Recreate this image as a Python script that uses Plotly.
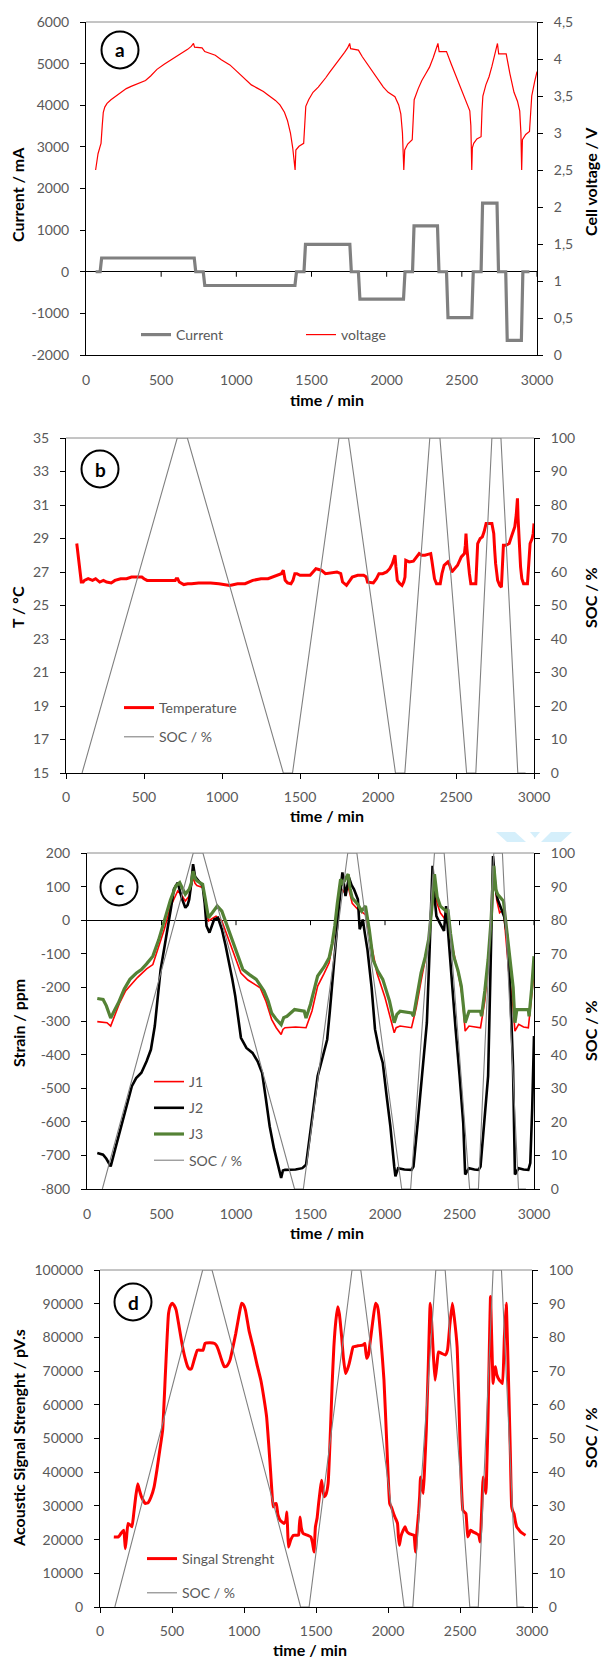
import plotly.graph_objects as go

# ------------------------------------------------------------------ data
time_ticks = [0, 500, 1000, 1500, 2000, 2500, 3000]

# (a) current (mA) and cell voltage (V)
current_t = [64, 94, 104, 720, 730, 780, 790, 1390, 1400, 1450, 1460, 1755, 1765, 1812,
             1822, 2112, 2122, 2172, 2182, 2338, 2348, 2398, 2408, 2566, 2576, 2628,
             2638, 2734, 2744, 2792, 2802, 2896, 2906, 2950]
current_mA = [0, 0, 330, 330, 0, 0, -330, -330, 0, 0, 660, 660, 0, 0, -660, -660, 0, 0,
              1100, 1100, 0, 0, -1100, -1100, 0, 0, 1650, 1650, 0, 0, -1650, -1650, 0, 0]

voltage_t = [64, 80, 94, 100, 108, 115, 125, 140, 166, 200, 240, 268, 300, 340, 396, 430,
             472, 520, 560, 600, 640, 676, 700, 715, 722, 760, 772, 790, 830, 860, 900,
             957, 1000, 1059, 1100, 1136, 1180, 1213, 1260, 1290, 1320, 1340, 1360, 1375,
             1391, 1396, 1417, 1448, 1455, 1462, 1481, 1510, 1545, 1570, 1596, 1620, 1647,
             1670, 1698, 1720, 1740, 1754, 1760, 1785, 1812, 1838, 1870, 1902, 1940, 1978,
             2010, 2055, 2080, 2094, 2105, 2114, 2120, 2140, 2170, 2176, 2183, 2210, 2234,
             2260, 2285, 2310, 2330, 2341, 2349, 2398, 2430, 2464, 2500, 2528, 2553, 2560,
             2566, 2570, 2579, 2600, 2628, 2634, 2640, 2660, 2681, 2700, 2720, 2737, 2745,
             2795, 2820, 2847, 2870, 2885, 2893, 2898, 2903, 2925, 2950, 2958, 2965, 2985,
             3000]
voltage_V = [2.50, 2.72, 2.82, 2.86, 3.10, 3.28, 3.35, 3.40, 3.45, 3.50, 3.56, 3.60, 3.63,
             3.66, 3.71, 3.77, 3.86, 3.93, 3.98, 4.04, 4.09, 4.13, 4.17, 4.21, 4.16, 4.16,
             4.15, 4.10, 4.07, 4.05, 3.99, 3.92, 3.84, 3.72, 3.65, 3.61, 3.56, 3.51, 3.44,
             3.38, 3.28, 3.17, 3.00, 2.80, 2.50, 2.77, 2.82, 2.86, 3.10, 3.36, 3.45, 3.55,
             3.62, 3.68, 3.75, 3.82, 3.89, 3.96, 4.03, 4.09, 4.15, 4.21, 4.14, 4.13, 4.12,
             4.03, 3.94, 3.85, 3.73, 3.62, 3.55, 3.49, 3.38, 3.26, 3.00, 2.50, 2.77, 2.85,
             2.91, 3.20, 3.45, 3.60, 3.71, 3.80, 3.89, 4.02, 4.15, 4.21, 4.10, 4.10, 3.93,
             3.76, 3.58, 3.44, 3.30, 3.10, 2.50, 2.80, 2.86, 2.92, 2.95, 3.30, 3.50, 3.65,
             3.76, 3.90, 4.05, 4.21, 4.07, 4.07, 3.80, 3.55, 3.43, 3.30, 3.00, 2.50, 2.91,
             2.98, 3.02, 3.30, 3.50, 3.70, 3.83]

# state of charge (%), shared by panels b, c, d
soc_t = [103, 713, 778, 1393, 1452, 1750, 1811, 2112, 2172, 2332, 2397, 2568, 2627, 2730,
         2788, 2896, 2946]
soc_pct = [0, 100, 100, 0, 0, 100, 100, 0, 0, 100, 100, 0, 0, 100, 100, 0, 0]

# (b) temperature (°C)
temp_t = [69, 75, 81, 90, 98, 110, 118, 142, 170, 190, 216, 240, 260, 290, 314, 350, 388,
          420, 486, 500, 520, 559, 600, 682, 700, 706, 716, 726, 755, 780, 805, 850, 927,
          980, 1050, 1100, 1148, 1197, 1250, 1295, 1343, 1380, 1393, 1400, 1405, 1420,
          1442, 1455, 1467, 1480, 1500, 1565, 1585, 1602, 1620, 1638, 1663, 1690, 1737,
          1761, 1768, 1773, 1798, 1815, 1835, 1870, 1908, 1925, 1933, 1970, 1990, 2006,
          2030, 2055, 2075, 2092, 2100, 2109, 2115, 2124, 2140, 2154, 2165, 2173, 2178,
          2200, 2227, 2245, 2264, 2280, 2301, 2320, 2338, 2345, 2350, 2362, 2375, 2399,
          2410, 2424, 2448, 2460, 2473, 2490, 2510, 2534, 2554, 2560, 2564, 2570, 2576,
          2586, 2595, 2627, 2633, 2639, 2655, 2669, 2680, 2693, 2730, 2742, 2748, 2754,
          2767, 2780, 2791, 2797, 2804, 2820, 2841, 2855, 2865, 2877, 2886, 2894, 2898,
          2902, 2908, 2914, 2922, 2933, 2958, 2967, 2975, 2988, 2995, 3000]
temp_C = [28.7, 28.2, 27.5, 26.8, 26.4, 26.4, 26.5, 26.6, 26.5, 26.6, 26.4, 26.5, 26.4,
          26.35, 26.5, 26.6, 26.6, 26.7, 26.7, 26.6, 26.5, 26.5, 26.5, 26.5, 26.5, 26.6,
          26.6, 26.4, 26.25, 26.3, 26.3, 26.35, 26.35, 26.3, 26.2, 26.3, 26.3, 26.5, 26.6,
          26.6, 26.75, 26.9, 27.1, 26.8, 26.5, 26.35, 26.3, 26.5, 26.9, 26.9, 26.8, 26.8,
          27.0, 27.2, 27.15, 27.1, 26.9, 26.95, 27.0, 26.9, 26.6, 26.4, 26.2, 26.4, 26.7,
          26.8, 26.8, 26.7, 26.4, 26.35, 26.6, 26.9, 26.9, 27.0, 27.2, 27.5, 27.7, 28.0,
          27.3, 26.5, 26.3, 26.2, 26.4, 26.7, 27.7, 27.6, 27.65, 27.9, 28.1, 28.0, 28.0,
          28.05, 28.1, 27.7, 27.3, 26.6, 26.3, 26.3, 26.9, 27.4, 27.6, 27.4, 27.0, 27.2,
          27.4, 27.9, 28.1, 28.6, 29.3, 28.4, 27.7, 26.9, 26.3, 26.3, 27.5, 28.7, 29.0,
          29.1, 29.4, 29.9, 29.9, 29.3, 28.3, 27.5, 26.5, 26.2, 26.1, 27.3, 28.6, 28.6,
          28.7, 29.1, 29.4, 29.7, 30.4, 31.4, 30.2, 29.3, 28.3, 27.3, 26.6, 26.3, 26.3,
          27.6, 28.7, 29.0, 29.3, 29.9]

# (c) strain (ppm)
j1_t = [69, 100, 134, 159, 185, 220, 260, 288, 340, 400, 442, 480, 519, 560, 609, 635, 660,
        686, 712, 725, 738, 776, 795, 815, 841, 866, 905, 960, 1033, 1080, 1162, 1200, 1239,
        1270, 1303, 1315, 1329, 1400, 1470, 1510, 1548, 1590, 1625, 1660, 1702, 1720, 1750,
        1780, 1818, 1869, 1910, 1946, 2000, 2062, 2075, 2101, 2178, 2210, 2242, 2290, 2332,
        2350, 2371, 2400, 2422, 2460, 2499, 2520, 2538, 2564, 2641, 2670, 2692, 2710, 2730,
        2750, 2769, 2795, 2830, 2860, 2872, 2897, 2930, 2962, 2980, 3000]
j1 = [-302, -303, -305, -315, -285, -245, -210, -196, -170, -145, -132, -80, -27, 40, 87, 75,
      57, 72, 127, 110, 103, 97, 50, -2, 5, 12, -2, -70, -157, -178, -201, -240, -295, -320,
      -340, -325, -320, -318, -320, -270, -196, -160, -127, -40, 97, 85, 105, 50, 32, 17, -70,
      -157, -230, -335, -320, -315, -320, -260, -181, -70, 102, 50, 22, 5, -12, -90, -176,
      -230, -330, -315, -320, -240, -137, -20, 142, 60, 22, 32, -150, -260, -330, -310, -318,
      -320, -250, -157]

j2_t = [69, 108, 130, 159, 190, 237, 270, 301, 330, 365, 400, 429, 455, 475, 494, 520, 545,
        565, 583, 609, 635, 660, 675, 686, 700, 712, 725, 738, 776, 790, 802, 822, 840, 853,
        879, 905, 930, 956, 975, 995, 1015, 1033, 1070, 1111, 1145, 1175, 1200, 1226, 1255,
        1278, 1303, 1315, 1329, 1400, 1445, 1470, 1500, 1548, 1580, 1612, 1630, 1650, 1670,
        1689, 1714, 1735, 1758, 1775, 1792, 1818, 1830, 1851, 1865, 1882, 1910, 1933, 1960,
        1985, 2010, 2036, 2062, 2070, 2088, 2130, 2178, 2191, 2220, 2242, 2262, 2281, 2300,
        2319, 2330, 2345, 2370, 2396, 2410, 2422, 2435, 2455, 2474, 2500, 2525, 2538, 2564,
        2600, 2628, 2641, 2665, 2692, 2708, 2725, 2740, 2756, 2782, 2800, 2820, 2840, 2859,
        2872, 2897, 2930, 2962, 2975, 2988, 3000]
j2 = [-693, -698, -710, -733, -680, -603, -545, -494, -470, -454, -420, -385, -315, -230,
      -147, -80, -17, 40, 92, 112, 67, 37, 45, 62, 110, 167, 130, 122, 102, 50, -17, -37, -15,
      2, 7, -27, -75, -127, -175, -226, -300, -350, -380, -395, -420, -454, -530, -613, -680,
      -723, -767, -745, -743, -742, -738, -728, -620, -464, -410, -355, -270, -166, -60, 32,
      142, 72, 127, 105, 92, 62, -27, 2, -40, -87, -200, -325, -385, -425, -520, -613, -733,
      -762, -738, -742, -743, -733, -600, -494, -400, -305, -80, 162, 80, 12, -10, -32, 42,
      -30, -107, -220, -325, -460, -603, -757, -738, -742, -743, -733, -600, -464, -150, 191,
      100, 62, 32, 10, -47, -200, -434, -757, -738, -742, -743, -723, -560, -345]

j3_t = [69, 108, 130, 159, 185, 211, 250, 288, 330, 365, 400, 442, 480, 519, 560, 596, 622,
        640, 660, 686, 700, 712, 725, 738, 776, 795, 815, 841, 874, 905, 940, 982, 1010, 1046,
        1090, 1136, 1188, 1215, 1239, 1270, 1303, 1320, 1342, 1370, 1393, 1458, 1470, 1500,
        1548, 1590, 1625, 1645, 1663, 1680, 1702, 1715, 1728, 1740, 1753, 1765, 1779, 1818,
        1843, 1869, 1895, 1920, 1950, 1985, 2030, 2062, 2080, 2101, 2178, 2191, 2215, 2242,
        2270, 2293, 2315, 2332, 2350, 2371, 2410, 2422, 2440, 2461, 2490, 2512, 2538, 2564,
        2641, 2648, 2670, 2692, 2712, 2730, 2745, 2756, 2795, 2820, 2846, 2860, 2872, 2885,
        2962, 2967, 2985, 3000]
j3 = [-233, -236, -255, -291, -268, -246, -205, -176, -158, -147, -130, -107, -60, 2, 60,
      102, 112, 95, 77, 92, 110, 146, 125, 117, 107, 60, 7, 22, 42, 27, -15, -67, -105, -147,
      -162, -176, -211, -240, -276, -295, -311, -290, -286, -275, -266, -271, -291, -250,
      -166, -140, -112, -70, -17, 50, 122, 110, 117, 128, 137, 95, 67, 47, 27, 42, -30, -117,
      -150, -176, -240, -305, -280, -271, -276, -286, -220, -157, -110, -57, 40, 137, 70, 42,
      27, 32, -40, -107, -150, -196, -305, -271, -271, -286, -210, -117, 0, 162, 90, 77, 57,
      -40, -137, -200, -305, -266, -266, -286, -200, -107]

# (d) acoustic signal strength (pV.s)
sig_t = [96, 128, 145, 155, 165, 176, 185, 195, 210, 222, 235, 248, 262, 275, 288, 315, 335,
         355, 375, 395, 415, 435, 455, 476, 490, 502, 515, 529, 550, 569, 590, 609, 622, 636,
         655, 676, 700, 716, 729, 760, 796, 810, 823, 843, 863, 880, 903, 925, 943, 963, 983,
         995, 1010, 1035, 1063, 1090, 1117, 1140, 1157, 1172, 1184, 1195, 1202, 1210, 1224,
         1235, 1251, 1265, 1277, 1290, 1298, 1303, 1309, 1325, 1344, 1365, 1379, 1384, 1389,
         1398, 1411, 1440, 1464, 1476, 1486, 1496, 1508, 1518, 1530, 1539, 1548, 1558, 1570,
         1584, 1600, 1612, 1624, 1638, 1651, 1662, 1678, 1690, 1705, 1718, 1731, 1745, 1758,
         1790, 1825, 1839, 1845, 1852, 1865, 1878, 1895, 1913, 1925, 1932, 1950, 1972, 1990,
         2000, 2012, 2025, 2039, 2050, 2066, 2072, 2079, 2090, 2106, 2119, 2130, 2146, 2165,
         2180, 2186, 2191, 2200, 2212, 2220, 2226, 2235, 2245, 2255, 2266, 2280, 2293, 2300,
         2306, 2316, 2327, 2340, 2351, 2375, 2399, 2413, 2430, 2447, 2460, 2480, 2490, 2501,
         2510, 2520, 2530, 2541, 2548, 2554, 2565, 2573, 2590, 2613, 2630, 2640, 2650, 2661,
         2670, 2680, 2687, 2693, 2703, 2712, 2720, 2730, 2738, 2746, 2755, 2773, 2785, 2795,
         2808, 2821, 2830, 2840, 2850, 2859, 2866, 2875, 2884, 2894, 2908, 2921, 2940, 2955]
sig = [20800, 20800, 21800, 22300, 22800, 17300, 21000, 24800, 24300, 23800, 28000, 32700,
       36600, 34500, 32700, 30700, 31000, 32700, 35500, 40600, 46500, 52500, 70000, 87100,
       89500, 90100, 89500, 88100, 83000, 78200, 74000, 71300, 70600, 70800, 73500, 76200,
       76200, 76200, 78200, 78400, 78200, 77500, 76200, 73500, 71300, 71500, 73300, 77500,
       81200, 86000, 90100, 89800, 88100, 82000, 77200, 72000, 67300, 61500, 56400, 48000,
       40600, 33500, 29700, 30500, 30700, 27500, 25700, 25200, 24800, 25500, 28200, 23000,
       17800, 20000, 21300, 21300, 21300, 24000, 26700, 23500, 21800, 21300, 20800, 19000,
       16300, 23800, 26500, 30700, 35000, 37600, 34500, 32700, 33500, 36600, 52000, 66000,
       77200, 85000, 89100, 87000, 80200, 74000, 69300, 70500, 72300, 75000, 77200, 77500,
       77700, 78200, 76000, 73800, 75000, 79200, 85000, 90100, 89500, 88100, 80000, 67300,
       50000, 40000, 30700, 29500, 27700, 26500, 24800, 21000, 18300, 21000, 22800, 23800,
       22500, 21800, 21500, 21300, 19000, 16300, 22000, 27700, 33000, 38600, 36000, 33700,
       42000, 52500, 72000, 90100, 87000, 82200, 74000, 67300, 72000, 75700, 75200, 74800,
       76200, 84000, 90100, 86000, 77200, 64000, 47500, 36000, 28700, 28200, 27700, 24000,
       20800, 21800, 22800, 22300, 21800, 21300, 19300, 28000, 38600, 36000, 33700, 43000,
       52500, 75000, 92100, 80000, 66300, 70000, 71300, 69000, 67300, 66800, 66300, 80000,
       90100, 78000, 62400, 45000, 29700, 28500, 27700, 25500, 23800, 23000, 22300, 21700,
       21300]

# tick values / labels
a_left_ticks = [-2000, -1000, 0, 1000, 2000, 3000, 4000, 5000, 6000]
a_right_ticks = [0, 0.5, 1, 1.5, 2, 2.5, 3, 3.5, 4, 4.5]
a_right_labels = ["0", "0,5", "1", "1,5", "2", "2,5", "3", "3,5", "4", "4,5"]
b_left_ticks = [15, 17, 19, 21, 23, 25, 27, 29, 31, 33, 35]
pct_ticks = [0, 10, 20, 30, 40, 50, 60, 70, 80, 90, 100]
c_left_ticks = [-800, -700, -600, -500, -400, -300, -200, -100, 0, 100, 200]
d_left_ticks = [0, 10000, 20000, 30000, 40000, 50000, 60000, 70000, 80000, 90000, 100000]

# ------------------------------------------------------------------ layout helpers
W, H = 601, 1658


def fx(p):
    return p / W


def fy(p):
    return 1 - p / H


BOX = {  # left, top, right, bottom  (pixels)
    "a": (86, 22, 537, 355),
    "b": (66, 438, 534, 773),
    "c": (87, 853, 534, 1189),
    "d": (100, 1270, 532, 1607),
}

FONT = "Lato, 'Open Sans', sans-serif"
tickfont = dict(family=FONT, size=14, color="#595959")
GRAY = "#808080"
RED = "#ff0000"


def xaxis(box, anchor, ticks, standoff):
    return dict(domain=[fx(box[0]), fx(box[2])], anchor=anchor, range=[0, 3000],
                tickmode="array", tickvals=time_ticks, ticktext=[str(v) for v in time_ticks],
                showgrid=False, zeroline=False, showline=True, linecolor="#000", linewidth=1,
                ticks=ticks, ticklen=5, tickcolor="#000", tickfont=tickfont,
                ticklabelstandoff=standoff, fixedrange=True, automargin=False)


def yleft(box, anchor, rng, vals, labels=None, zero=False):
    return dict(domain=[fy(box[3]), fy(box[1])], anchor=anchor, range=rng,
                tickmode="array", tickvals=vals,
                ticktext=labels if labels else [str(v) for v in vals],
                showgrid=False, zeroline=zero, zerolinecolor="#000", zerolinewidth=1,
                showline=True, linecolor="#000", linewidth=1, ticks="outside", ticklen=5,
                tickcolor="#000", tickfont=tickfont, ticklabelstandoff=8, fixedrange=True,
                automargin=False)


def yright(over, anchor, rng, vals, labels=None):
    return dict(overlaying=over, anchor=anchor, side="right", range=rng,
                tickmode="array", tickvals=vals,
                ticktext=labels if labels else [str(v) for v in vals],
                showgrid=False, zeroline=False, showline=True, linecolor="#000",
                linewidth=1, ticks="outside", ticklen=5, tickcolor="#000",
                tickfont=tickfont, ticklabelstandoff=8, fixedrange=True, automargin=False)


fig = go.Figure()

# ---------------- panel a
fig.add_trace(go.Scatter(x=current_t, y=current_mA, name="Current", mode="lines",
                         line=dict(color=GRAY, width=3.2), xaxis="x", yaxis="y",
                         legend="legend", legendgroup="a1"))
fig.add_trace(go.Scatter(x=voltage_t, y=voltage_V, name="voltage", mode="lines",
                         line=dict(color=RED, width=1.2), xaxis="x", yaxis="y2",
                         legend="legend", legendgroup="a2"))
# ---------------- panel b
fig.add_trace(go.Scatter(x=temp_t, y=temp_C, name="Temperature", mode="lines",
                         line=dict(color=RED, width=3), xaxis="x2", yaxis="y3",
                         legend="legend2", legendgroup="b1"))
fig.add_trace(go.Scatter(x=soc_t, y=soc_pct, name="SOC / %", mode="lines",
                         line=dict(color=GRAY, width=1.1), xaxis="x2", yaxis="y4",
                         legend="legend2", legendgroup="b2"))
# ---------------- panel c
fig.add_trace(go.Scatter(x=j1_t, y=j1, name="J1", mode="lines",
                         line=dict(color=RED, width=1.6), xaxis="x3", yaxis="y5",
                         legend="legend3", legendgroup="c1"))
fig.add_trace(go.Scatter(x=j2_t, y=j2, name="J2", mode="lines",
                         line=dict(color="#000000", width=2.6), xaxis="x3", yaxis="y5",
                         legend="legend3", legendgroup="c2"))
fig.add_trace(go.Scatter(x=j3_t, y=j3, name="J3", mode="lines",
                         line=dict(color="#548235", width=3.2), xaxis="x3", yaxis="y5",
                         legend="legend3", legendgroup="c3"))
fig.add_trace(go.Scatter(x=soc_t, y=soc_pct, name="SOC / %", mode="lines",
                         line=dict(color=GRAY, width=1.1), xaxis="x3", yaxis="y6",
                         legend="legend3", legendgroup="c4"))
# ---------------- panel d
fig.add_trace(go.Scatter(x=sig_t, y=sig, name="Singal Strenght", mode="lines",
                         line=dict(color=RED, width=3, shape="spline", smoothing=0.4),
                         xaxis="x4", yaxis="y7", legend="legend4", legendgroup="d1"))
fig.add_trace(go.Scatter(x=soc_t, y=soc_pct, name="SOC / %", mode="lines",
                         line=dict(color=GRAY, width=1.1), xaxis="x4", yaxis="y8",
                         legend="legend4", legendgroup="d2"))

A, B, C, D = BOX["a"], BOX["b"], BOX["c"], BOX["d"]

layout = dict(
    width=W, height=H, margin=dict(l=0, r=0, t=0, b=0, autoexpand=False),
    paper_bgcolor="#ffffff", plot_bgcolor="rgba(0,0,0,0)",
    font=dict(family=FONT, size=14, color="#595959"),
    xaxis=xaxis(A, "y", "", 12),
    yaxis=yleft(A, "x", [-2000, 6000], a_left_ticks, zero=True),
    yaxis2=yright("y", "x", [0, 4.5], a_right_ticks, a_right_labels),
    xaxis2=xaxis(B, "y3", "outside", 6),
    yaxis3=yleft(B, "x2", [15, 35], b_left_ticks),
    yaxis4=yright("y3", "x2", [0, 100], pct_ticks),
    xaxis3=xaxis(C, "y5", "", 12),
    yaxis5=yleft(C, "x3", [-800, 200], c_left_ticks, zero=True),
    yaxis6=yright("y5", "x3", [0, 100], pct_ticks),
    xaxis4=xaxis(D, "y7", "outside", 6),
    yaxis7=yleft(D, "x4", [0, 100000], d_left_ticks),
    yaxis8=yright("y7", "x4", [0, 100], pct_ticks),
    showlegend=True,
)

legfont = dict(family=FONT, size=14, color="#595959")
layout["legend"] = dict(orientation="h", x=fx(136), y=fy(335), xanchor="left",
                        yanchor="middle", entrywidth=120, entrywidthmode="pixels",
                        bgcolor="rgba(0,0,0,0)", font=legfont, traceorder="normal")
layout["legend2"] = dict(x=fx(119), y=fy(692), xanchor="left", yanchor="top",
                         bgcolor="rgba(0,0,0,0)", font=legfont, tracegroupgap=8,
                         traceorder="grouped")
layout["legend3"] = dict(x=fx(149), y=fy(1066), xanchor="left", yanchor="top",
                         bgcolor="rgba(0,0,0,0)", font=legfont, tracegroupgap=5,
                         traceorder="grouped")
layout["legend4"] = dict(x=fx(142), y=fy(1543), xanchor="left", yanchor="top",
                         bgcolor="rgba(0,0,0,0)", font=legfont, tracegroupgap=13,
                         traceorder="grouped")

shapes = []
# top borders of each plot area
for xr, yr in [("x", "y"), ("x2", "y3"), ("x3", "y5"), ("x4", "y7")]:
    shapes.append(dict(type="line", xref=f"{xr} domain", yref=f"{yr} domain",
                       x0=0, x1=1, y0=1, y1=1, line=dict(color="#8a8a8a", width=1)))
# downward tick marks on the zero lines of panels a and c
for xr, yr in [("x", "y"), ("x3", "y5")]:
    for tv in time_ticks[1:]:
        shapes.append(dict(type="line", xref=xr, yref=yr, x0=tv, x1=tv,
                           ysizemode="pixel", yanchor=0, y0=0, y1=-5,
                           line=dict(color="#000", width=1)))
# panel letters in circles
letters = [("a", 120, 50), ("b", 100, 469), ("c", 119, 887), ("d", 133, 1302)]
r = 18.5
for _, cx, cy in letters:
    shapes.append(dict(type="circle", xref="paper", yref="paper",
                       x0=fx(cx - r), x1=fx(cx + r), y0=fy(cy + r), y1=fy(cy - r),
                       line=dict(color="#000", width=2)))
# faint light-blue mark above panel c
for poly in [[(496, 832), (515, 832), (526, 842), (507, 842)],
             [(530, 832), (540, 832), (535, 838)],
             [(551, 832), (572, 832), (561, 842), (541, 842)]]:
    path = "M " + " L ".join(f"{fx(p[0])},{fy(p[1])}" for p in poly) + " Z"
    shapes.append(dict(type="path", xref="paper", yref="paper", path=path,
                       fillcolor="#d5effb", line=dict(width=0)))
layout["shapes"] = shapes

ann = []
bold = dict(family=FONT, size=16, color="#000", weight="bold")
for text, x, y, ang in [
    ("Current / mA", 18, 195, -90), ("Cell voltage / V", 590, 182, -90),
    ("time / min", 327, 399, 0),
    ("T / °C", 18, 607, -90), ("SOC / %", 590, 598, -90), ("time / min", 327, 815, 0),
    ("Strain / ppm", 18, 1023, -90), ("SOC / %", 590, 1031, -90),
    ("time / min", 327, 1232, 0),
    ("Acoustic Signal Strenght / pV.s", 18, 1438, -90), ("SOC / %", 590, 1438, -90),
    ("time / min", 310, 1649, 0),
]:
    ann.append(dict(text=text, x=fx(x), y=fy(y), xref="paper", yref="paper",
                    xanchor="center", yanchor="middle", showarrow=False, textangle=ang,
                    font=bold))
for letter, cx, cy in letters:
    ann.append(dict(text=letter, x=fx(cx), y=fy(cy), xref="paper", yref="paper",
                    xanchor="center", yanchor="middle", showarrow=False,
                    font=dict(family=FONT, size=19, color="#000", weight="bold")))
layout["annotations"] = ann

fig.update_layout(**layout)
fig.write_html(
    "out.html",
    config={"displayModeBar": False},
    post_script="document.body.style.margin='0';document.body.style.overflow='hidden';",
)
